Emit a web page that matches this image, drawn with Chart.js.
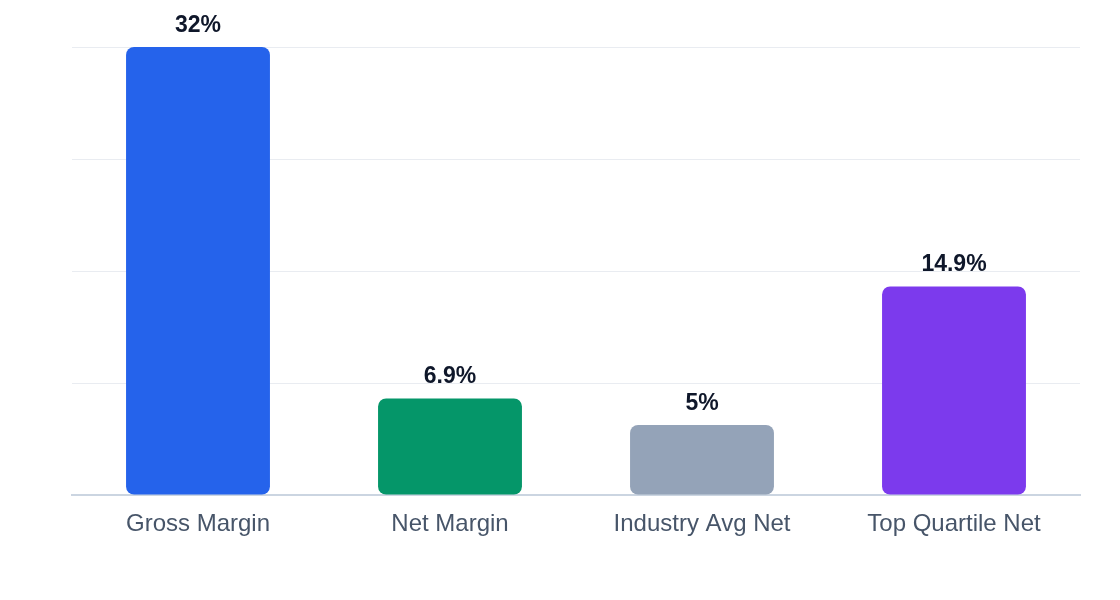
<!DOCTYPE html>
<html lang="en">
<head>
    <meta charset="UTF-8">
    <title>Margins</title>
    <style>
        html, body { margin: 0; padding: 0; background: #fff; }
        #wrap { width: 1120px; height: 600px; }
    </style>
    <script src="https://cdn.jsdelivr.net/npm/chart.js"></script>
</head>
<body>
    <div id="wrap"><canvas id="chart"></canvas></div>
    <script>
        const categories = ['Gross Margin', 'Net Margin', 'Industry Avg Net', 'Top Quartile Net'];
        const values = [32, 6.9, 5, 14.9];
        const barColors = ['#2563eb', '#059669', '#94a3b8', '#7c3aed'];

        const FONT = '"Liberation Sans", Arial, sans-serif';

        // value labels above each bar
        const valueLabels = {
            id: 'valueLabels',
            afterDatasetsDraw(chart) {
                const ctx = chart.ctx;
                const meta = chart.getDatasetMeta(0);
                ctx.save();
                ctx.font = 'bold 23px ' + FONT;
                ctx.fillStyle = '#0f172a';
                ctx.textAlign = 'center';
                ctx.textBaseline = 'alphabetic';
                meta.data.forEach((bar, i) => {
                    ctx.fillText(values[i] + '%', bar.x, bar.y - 15);
                });
                ctx.restore();
            }
        };

        new Chart(document.getElementById('chart'), {
            type: 'bar',
            data: {
                labels: categories,
                datasets: [{
                    data: values,
                    backgroundColor: barColors,
                    borderRadius: 8,
                    borderSkipped: false,
                    categoryPercentage: 1,
                    barPercentage: 0.571
                }]
            },
            options: {
                responsive: true,
                maintainAspectRatio: false,
                animation: false,
                layout: { padding: { left: 72, right: 40, top: 47, bottom: 0 } },
                plugins: {
                    legend: { display: false },
                    tooltip: { enabled: false }
                },
                scales: {
                    x: {
                        grid: { display: false, drawTicks: false },
                        border: { color: '#cbd5e1', width: 2 },
                        ticks: {
                            color: '#475569',
                            font: { family: FONT, size: 24 },
                            padding: 15
                        },
                        afterFit(scale) { scale.height = 105; }
                    },
                    y: {
                        min: 0,
                        max: 32,
                        ticks: { display: false, stepSize: 8 },
                        grid: { color: '#e9ecf1', lineWidth: 1, drawTicks: false },
                        border: { display: false },
                        afterFit(scale) { scale.width = 0; }
                    }
                }
            },
            plugins: [valueLabels]
        });
    </script>
</body>
</html>
